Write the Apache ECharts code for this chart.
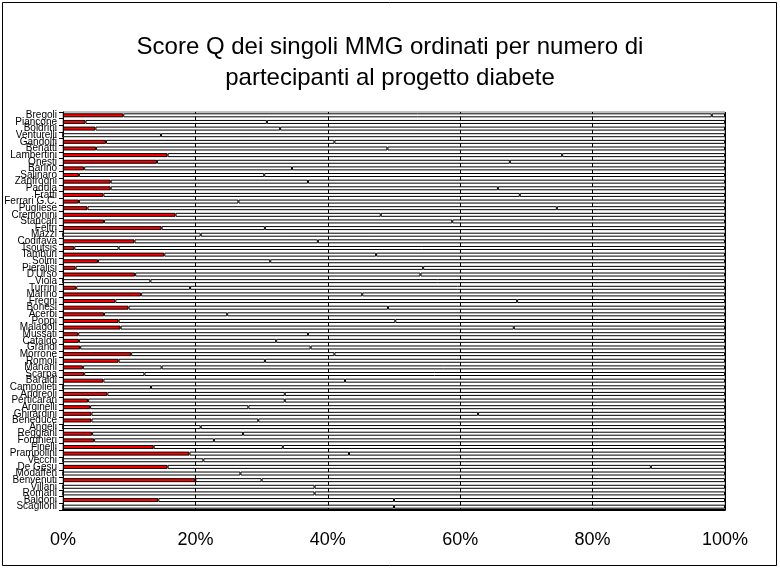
<!DOCTYPE html>
<html>
<head>
<meta charset="utf-8">
<script src="https://cdn.jsdelivr.net/npm/echarts@6/dist/echarts.min.js"></script>
<style>html,body{margin:0;padding:0;background:#fff}#c{width:780px;height:569px}</style>
</head>
<body>
<div id="c"></div>
<script>
const categories = ["Bregoli","Piancone","Boldrini","Venturelli","Gandolfi","Benatti","Lambertini","Onesti","Barino","Salinaro","Zanfrogni","Padula","Fratti","Ferrari G.C.","Pugliese","Cremonini","Stancari","Feltri","Mazzi","Codifava","Tsoutsis","Tamburi","Solmi","Pieralisi","D'Urso","Viola","Turrini","Marino","Fregni","Bonesi","Acerbi","Poppi","Malagoli","Mussati","Cataldo","Grandi","Morrone","Romoli","Manani","Scarpa","Baraldi","Campolieti","Andreoli","Perticaran","Arginelli","Ghirardini","Beneduce","Angeli","Reggiani","Forghieri","Finelli","Prampolini","Vecchi","De Gesu","Modaffen","Benvenuti","Villani","Romani","Baldoni","Scaglioni"];
// score Q (red segment), percent
const scoreQ = [9.1,3.4,4.9,0,6.5,5.0,15.8,14.2,3.2,2.4,7.2,7.2,6.1,2.4,3.7,17.0,6.2,14.9,0,10.8,1.7,15.3,5.3,1.9,10.9,0,2.0,11.8,7.9,9.9,6.2,8.4,8.7,2.3,2.4,2.6,10.3,8.4,3.0,3.2,6.1,0,6.7,3.8,4.1,4.3,4.3,0,4.4,4.7,13.7,19.1,0,15.8,0,20.0,0,0,14.4,0];
// cumulative position of the second boundary (percent)
const secondMark = [98,30.8,32.8,14.8,41,49,75.4,67.5,34.6,30.4,37,65.7,69,26.5,74.6,48,58.8,30.5,20.8,38.5,8.4,47.3,31.3,54.4,54,13.2,19.2,45.2,68.6,49.1,24.8,50.2,68.1,37,32.2,37.4,41,30.5,14.9,12.3,42.6,13.3,33.5,33.5,28,62.7,29.5,20.8,27.2,22.8,33.2,43.2,21.2,88.8,26.8,30,38,38,50,50];

const seg1 = scoreQ;
const seg2 = secondMark.map((m,i)=>Math.max(0, +(m - scoreQ[i]).toFixed(2)));
const seg3 = secondMark.map((m)=>+(100 - m).toFixed(2));

const chart = echarts.init(document.getElementById('c'), null, {renderer:'canvas'});
const barStyle = (color)=>({color: color, borderColor:'#000', borderWidth:1});
chart.setOption({
  animation:false,
  backgroundColor:'#fff',
  title:{
    text:'Score Q dei singoli MMG ordinati per numero di\npartecipanti al progetto diabete',
    left:'center', top:27,
    textStyle:{fontFamily:'Liberation Sans, Arial, sans-serif', fontSize:24, fontWeight:'normal', color:'#000', lineHeight:31}
  },
  grid:{left:63, right:55, top:112, bottom:59, show:true, borderColor:'#808080', borderWidth:1, backgroundColor:'#fff'},
  xAxis:{
    type:'value', min:0, max:100, interval:20,
    axisLine:{show:true, lineStyle:{color:'#000', width:2}},
    axisTick:{show:false},
    axisLabel:{formatter:'{value}%', fontFamily:'Liberation Sans, Arial, sans-serif', fontSize:18, color:'#000', margin:21},
    splitLine:{show:true, lineStyle:{color:'#000', width:1}}
  },
  yAxis:{
    type:'category', data:categories, inverse:true,
    axisLine:{show:true, lineStyle:{color:'#000', width:1}},
    axisTick:{show:true, length:4, lineStyle:{color:'#000'}},
    axisLabel:{interval:0, fontFamily:'Liberation Sans Narrow, Arial Narrow, sans-serif', fontSize:10, color:'#000', margin:6}
  },
  series:[
    {name:'score', type:'bar', stack:'s', data:seg1, itemStyle:barStyle('#ff0000'), barWidth:4},
    {name:'mid', type:'bar', stack:'s', data:seg2, itemStyle:barStyle('#ffffff'), barWidth:4},
    {name:'rest', type:'bar', stack:'s', data:seg3, itemStyle:barStyle('#ffffff'), barWidth:4}
  ],
  graphic:[{type:'rect', shape:{x:2.5,y:2.5,width:774,height:563}, style:{fill:'none', stroke:'#000', lineWidth:1}, silent:true, z:100}]
});
</script>
</body>
</html>
